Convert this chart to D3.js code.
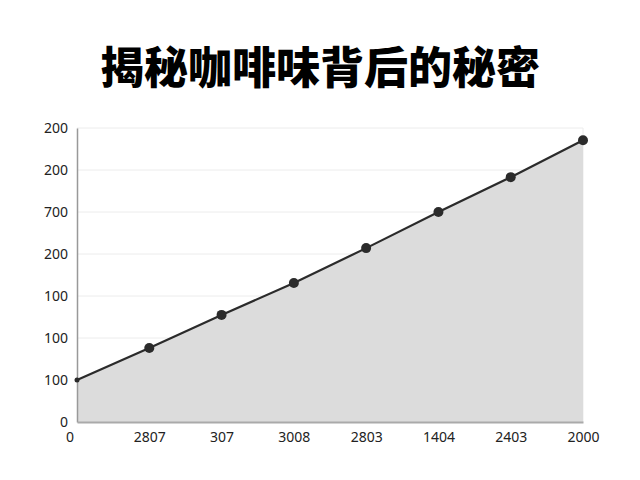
<!DOCTYPE html>
<html><head><meta charset="utf-8">
<script src="https://cdn.jsdelivr.net/npm/d3@7"></script>
<style>
body{margin:0;background:#fff;}
svg{display:block;}
</style></head>
<body>
<svg id="c" width="640" height="480"></svg>
<script>
const title = "揭秘咖啡味背后的秘密";
const categories = ["0","2807","307","3008","2803","1404","2403","2000"];
const values = [100, 176, 255, 331, 414, 500, 583, 671];
const yTickValues = [0,100,200,300,400,500,600,700];
const yTickLabels = ["0","100","100","100","200","700","200","200"];

const svg = d3.select("#c");
const m = {l:77, r:583, t:128, b:422};
const x = d3.scalePoint().domain(d3.range(categories.length)).range([m.l, m.r]);
const y = d3.scaleLinear().domain([0,700]).range([m.b, m.t]);

svg.append("text").attr("x",320).attr("y",84).attr("text-anchor","middle")
  .attr("font-family","'Noto Sans CJK SC'").attr("font-weight","900").attr("font-size",44)
  .attr("fill","#000").text(title);

// gridlines
svg.append("g").selectAll("line").data(yTickValues.slice(1)).join("line")
  .attr("x1",m.l).attr("x2",m.r).attr("y1",d=>y(d)).attr("y2",d=>y(d))
  .attr("stroke","#ececec").attr("stroke-width",1);
svg.append("line").attr("x1",m.r).attr("x2",m.r).attr("y1",m.t).attr("y2",m.b)
  .attr("stroke","#ececec");

// area
const idx = d3.range(values.length);
svg.append("path").datum(idx)
  .attr("d", d3.area().x(i=>x(i)).y0(y(0)).y1(i=>y(values[i])))
  .attr("fill","#dcdcdc");
svg.append("path").datum(idx)
  .attr("d", d3.line().x(i=>x(i)).y(i=>y(values[i])))
  .attr("fill","none").attr("stroke","#2b2b2b").attr("stroke-width",2.2);

// axes
const yAxis = d3.axisLeft(y).tickValues(yTickValues).tickFormat((d,i)=>yTickLabels[i]).tickSize(0).tickPadding(9);
const gy = svg.append("g").attr("transform",`translate(${m.l},0)`).call(yAxis);
gy.select(".domain").attr("stroke","#999").attr("stroke-width",1.5);
gy.selectAll("text").attr("font-family","'Noto Sans'").attr("font-size",14).attr("fill","#222");

const xAxis = d3.axisBottom(x).tickFormat(i=>categories[i]).tickSize(0).tickPadding(10);
const gx = svg.append("g").attr("transform",`translate(0,${m.b})`).call(xAxis);
gx.select(".domain").attr("stroke","#aaa").attr("stroke-width",2);
gx.selectAll("text").attr("font-family","'Noto Sans'").attr("font-size",14).attr("fill","#222");
gx.selectAll(".tick").filter(i=>i===0).attr("transform",`translate(${x(0)-7},0)`);

// markers
svg.append("g").selectAll("circle").data(idx).join("circle")
  .attr("cx",i=>x(i)).attr("cy",i=>y(values[i])).attr("r",i=>i===0?2.5:5)
  .attr("fill","#2b2b2b");
</script>
</body></html>
